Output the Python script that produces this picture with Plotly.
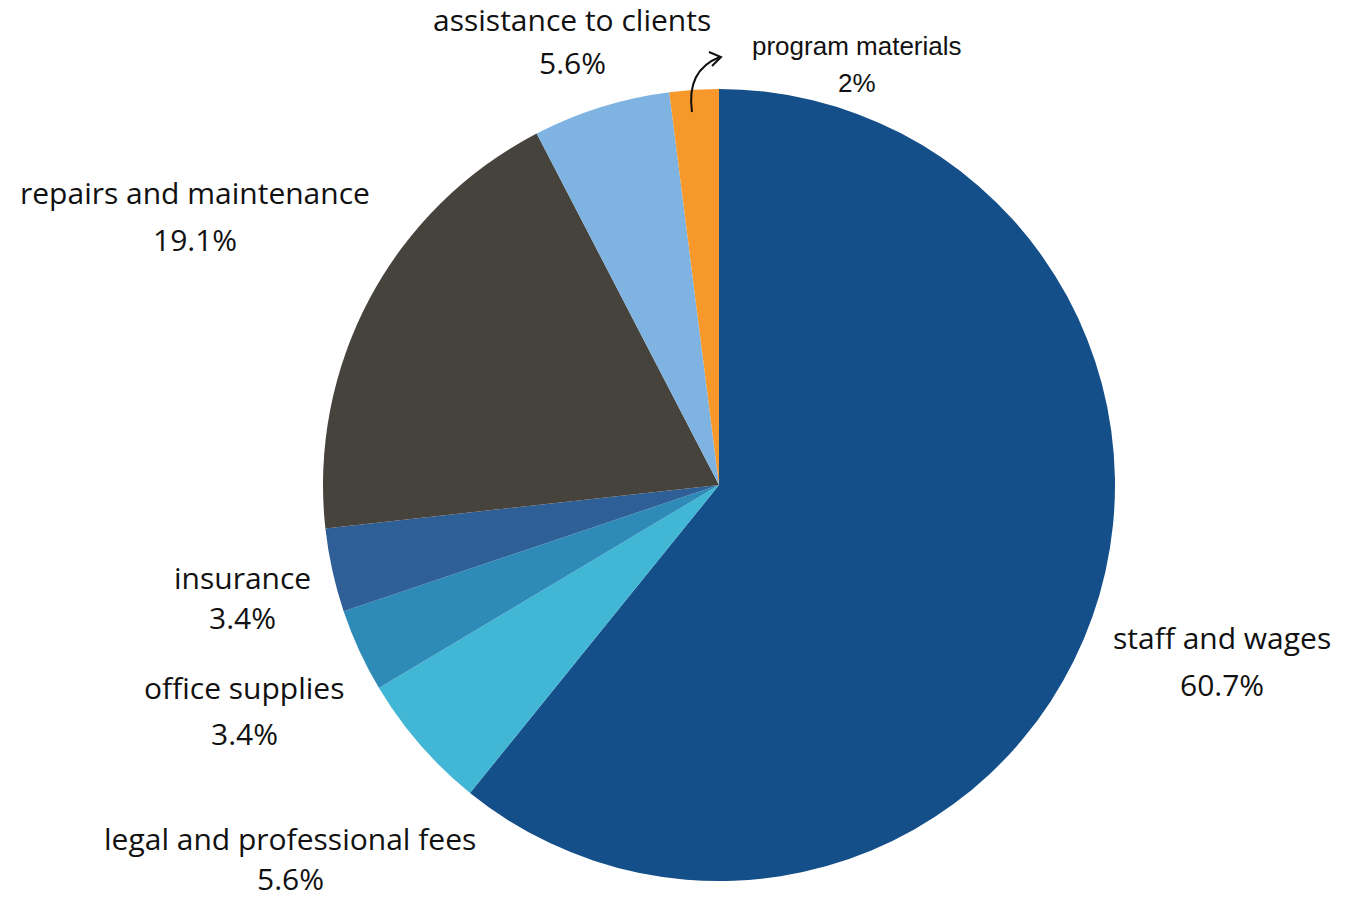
import plotly.graph_objects as go

W, H = 1354, 899

labels = ["staff and wages", "legal and professional fees", "office supplies", "insurance",
          "repairs and maintenance", "assistance to clients", "program materials"]
values = [60.7, 5.6, 3.4, 3.4, 19.1, 5.6, 2]
colors = ["#154F8A", "#41B6D5", "#2E8BB8", "#2E5F96", "#46423C", "#7FB4E2", "#F7992A"]

# label anchor positions in pixels (center x, name line y, value line y)
label_pos = {
    "staff and wages": (1222, 637, 684),
    "legal and professional fees": (290, 838, 878),
    "office supplies": (244, 687, 733),
    "insurance": (242, 577, 617),
    "repairs and maintenance": (195, 192, 240),
    "assistance to clients": (572, 20, 62),
    "program materials": (857, 46, 83),
}

cx, cy, r = 719, 485, 396

fig = go.Figure(go.Pie(
    labels=labels, values=values, sort=False, direction="clockwise", rotation=0,
    marker=dict(colors=colors, line=dict(width=0)),
    textinfo="none", hoverinfo="label+percent",
    domain=dict(x=[(cx - r) / W, (cx + r) / W], y=[1 - (cy + r) / H, 1 - (cy - r) / H]),
    showlegend=False,
))

def px(x):
    return x / W

def py(y):
    return 1 - y / H

annotations = []
for lab, val in zip(labels, values):
    x, y1, y2 = label_pos[lab]
    small = lab == "program materials"
    font = dict(family="Liberation Sans, Arial" if small else "Open Sans, Lato",
                size=26 if small else 30, color="#111111")
    annotations.append(dict(x=px(x), y=py(y1), xref="paper", yref="paper", text=lab,
                            showarrow=False, font=font, xanchor="center", yanchor="middle",
                            borderpad=0))
    annotations.append(dict(x=px(x), y=py(y2), xref="paper", yref="paper", text=f"{val:g}%",
                            showarrow=False, font=font, xanchor="center", yanchor="middle",
                            borderpad=0))

# curved hand-drawn arrow pointing to program materials
p0 = (692, 112)
c1 = (686, 70)
p1 = (720, 57)
path = f"M {px(p0[0])},{py(p0[1])} Q {px(c1[0])},{py(c1[1])} {px(p1[0])},{py(p1[1])}"
head = (f"M {px(709)},{py(52)} L {px(721)},{py(57)} L {px(712)},{py(66)}")
shapes = [
    dict(type="path", xref="paper", yref="paper", path=path, line=dict(color="#111111", width=2)),
    dict(type="path", xref="paper", yref="paper", path=head, line=dict(color="#111111", width=2)),
]

fig.update_layout(
    width=W, height=H, margin=dict(l=0, r=0, t=0, b=0),
    paper_bgcolor="white", plot_bgcolor="white",
    annotations=annotations, shapes=shapes,
)

fig.write_html("out.html", config={"displayModeBar": False},
               post_script="document.body.style.margin='0px';document.body.style.overflow='hidden';")
